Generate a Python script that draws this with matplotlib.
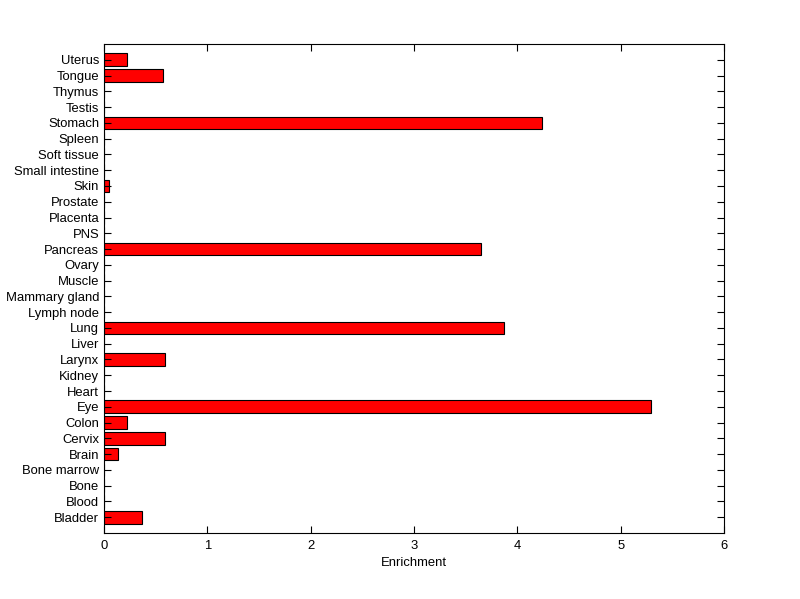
import matplotlib
matplotlib.use('Agg')
import matplotlib.pyplot as plt

tissues = ['Bladder', 'Blood', 'Bone', 'Bone marrow', 'Brain', 'Cervix', 'Colon', 'Eye',
           'Heart', 'Kidney', 'Larynx', 'Liver', 'Lung', 'Lymph node', 'Mammary gland',
           'Muscle', 'Ovary', 'Pancreas', 'PNS', 'Placenta', 'Prostate', 'Skin',
           'Small intestine', 'Soft tissue', 'Spleen', 'Stomach', 'Testis', 'Thymus',
           'Tongue', 'Uterus']
enrichment = [0.37, 0, 0, 0, 0.14, 0.59, 0.22, 5.29,
              0, 0, 0.59, 0, 3.87, 0, 0,
              0, 0, 3.65, 0, 0, 0, 0.05,
              0, 0, 0, 4.24, 0, 0,
              0.57, 0.22]

plt.rcParams['font.family'] = ['Liberation Sans', 'DejaVu Sans']
plt.rcParams['font.size'] = 9.4

fig = plt.figure(figsize=(8, 5.99), dpi=100)
ax = fig.add_axes([104/800, 1 - 533/599, 620/800, 489/599])

pos = list(range(1, len(tissues) + 1))
ax.barh(pos, enrichment, height=0.8, color='red', edgecolor='black', linewidth=0.8)

ax.set_xlim(0, 6)
ax.set_ylim(0, len(tissues) + 1)
ax.set_yticks(pos)
ax.set_yticklabels(tissues)
ax.set_xticks(range(0, 7))
ax.tick_params(direction='in', length=5, width=0.8, top=True, right=True, colors='black')
ax.tick_params(axis='x', pad=5)
for s in ax.spines.values():
    s.set_linewidth(0.8)
ax.set_xlabel('Enrichment', labelpad=4)

fig.savefig('out.png', dpi=100)
